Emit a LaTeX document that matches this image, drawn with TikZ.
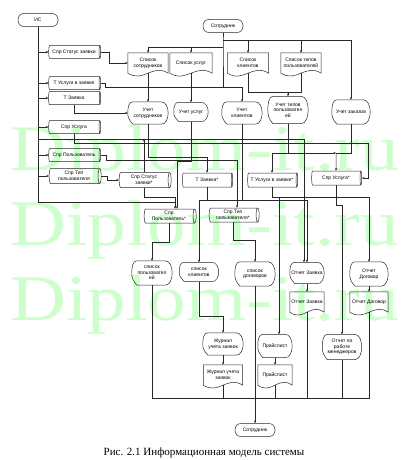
\documentclass[tikz,border=0pt]{standalone}
\usepackage{fontspec}
\setmainfont{Liberation Sans}
\newfontfamily\serifcap{Liberation Serif}
\usetikzlibrary{shapes.geometric,arrows.meta,calc}
\definecolor{wmgreen}{RGB}{204,255,204}
\definecolor{lncol}{RGB}{40,40,40}
\tikzset{
  every node/.style={font=\fontsize{5}{5.6}\selectfont, align=center, text=black},
  ln/.style={draw=lncol, line width=0.5pt},
  arr/.style={ln, -{Stealth[length=2.6pt,width=2.2pt]}},
  term/.style={draw=lncol, line width=0.5pt, rounded corners=6pt, minimum width=40pt, minimum height=13pt, inner sep=1pt},
  cyl/.style={cylinder, draw=lncol, line width=0.5pt, aspect=0.3, minimum height=52pt, minimum width=13pt, inner sep=0.5pt},
  cylb/.style={cyl, minimum height=50pt, minimum width=14pt},
}
\newcommand\docnode[4]{%
  \node[minimum width=#3pt, minimum height=20pt, inner sep=0.5pt] (#1) at (#2) {#4};
  \draw[ln] (#1.south west) -- (#1.north west) -- (#1.north east) -- (#1.south east)
    .. controls +({-0.4*#3},-10) and +({0.4*#3},10) .. (#1.south west);}
\newcommand\dispnode[5]{%
  \node[minimum width=#3pt, minimum height=#4pt, inner sep=0.5pt] (#1) at (#2) {#5};
  \draw[ln] ($(#1.north west)+(5,0)$) -- ($(#1.north east)+(-7,0)$)
    .. controls +(9.3,0) and +(9.3,0) .. ($(#1.south east)+(-7,0)$)
    -- ($(#1.south west)+(5,0)$) .. controls +(-4,-5) and +(0,5) .. (#1.west)
    .. controls +(0,-6) and +(-4,0) .. ($(#1.north west)+(5,0)$);}
\begin{document}
\begin{tikzpicture}[x=1pt,y=-1pt]
\fill[white] (0,0) rectangle (401,460);
\useasboundingbox (0,0) rectangle (401,460);
% watermark
\foreach \yy/\nm in {170/wm1,245/wm2,320/wm3}
  \node[anchor=base west, inner sep=0pt, text=wmgreen, font=\serifcap\fontsize{65}{70}\selectfont, xscale=1.19] (\nm) at (10,\yy) {Diplom-it.ru};
% terminals
\node[term] (is) at (38,20) {ИС};
\node[term] (st1) at (223,26) {Сотрудник};
\node[term] (st2) at (255,430) {Сотрудник};
% left cylinders
\node[cyl] (c1) at (74,52) {Спр Статус заявки};
\node[cyl] (c2) at (74,83) {Т Услуги в заявке};
\node[cyl] (c3) at (74,98) {Т Заявка};
\node[cyl] (c4) at (74,127) {Спр Услуга};
\node[cyl] (c5) at (74,155) {Спр Пользователь};
\node[cyl, minimum width=15pt] (c6) at (74,176) {Спр Тип\\пользователя};
% top documents
\docnode{d1}{148,63}{40}{Список\\сотрудников}
\docnode{d2}{191,63}{42}{Список услуг}
\docnode{d3}{248,63}{41}{Список\\клиентов}
\docnode{d4}{301,63}{40}{Список типов\\пользователей}
% processes
\dispnode{u1}{148,113}{40}{22}{Учет\\сотрудников}
\dispnode{u2}{191,112}{34}{19}{Учет услуг}
\dispnode{u3}{242,113}{40}{22}{Учет\\клиентов}
\dispnode{u4}{288,110}{40}{27}{Учет типов\\пользовател\\ей}
\dispnode{u5}{351,112}{38}{24}{Учет заказов}
% middle cylinders
\node[cyl, minimum width=15pt] (r1) at (144,180) {Спр Статус\\заявки*};
\node[cylb] (r2) at (207,180) {Т Заявка*};
\node[cylb] (r3) at (272,180) {Т Услуги в заявке*};
\node[cylb] (r4) at (336,178) {Спр Услуга*};
\node[cyl, minimum width=14pt] (r5) at (169,216) {Спр\\Пользователь*};
\node[cylb] (r6) at (233,215) {Спр Тип\\пользователя*};
% lower row
\dispnode{s1}{152,273}{40}{24}{список\\пользовател\\ей}
\dispnode{s2}{199,272}{39}{19}{список\\клиентов}
\dispnode{s3}{255,274}{40}{24}{список\\договоров}
\dispnode{o1}{307,273}{34}{21}{Отчет Заявка}
\dispnode{o2}{369,274}{38}{24}{Отчет\\Договор}
\docnode{od1}{307,302}{34}{Отчет Заявка}
\docnode{od2}{369,302}{38}{Отчет Договор}
\dispnode{z1}{223,344}{40}{22}{Журнал\\учета заявок}
\docnode{z2}{223,375}{39}{Журнал учета\\заявок}
\dispnode{p1}{275,346}{34}{23}{Прайслист}
\docnode{p2}{275,375}{34}{Прайслист}
\dispnode{m1}{342,347}{39}{25}{Отчет по\\работе\\менеджеров}
% caption
\node[anchor=base, font=\serifcap\fontsize{11}{12}\selectfont] (cap) at (204,455) {Рис. 2.1 Информационная модель системы};
% junctions
\coordinate (ja) at (223,40);
\coordinate (jb) at (223,47);
\coordinate (jc) at (223,87);
\coordinate (jd) at (288,92);
\coordinate (jg) at (242,87);
\coordinate (jn) at (304,139);
\coordinate (jm) at (368,143);
\coordinate (jk) at (336,153);
\coordinate (jk2) at (r3.north |- jk);
\coordinate (jr) at (175,202);
\coordinate (jt) at (237,160);
\coordinate (jy) at (242,200);
\coordinate (jz) at (255,398);
% top connectors
\draw[ln] (st1.south) -- (ja) -- (jb) -- (jc);
\draw[arr] (ja) -| (d3.north);
\draw[arr] (ja) -| (d4.north);
\draw[arr] (ja) -| (u5.north);
\draw[arr] (jb) -| (d1.north);
\draw[arr] (jb) -| (d2.north);
\draw[arr] (d1.south) -- (u1.north);
\draw[arr] (d2.south) -- (u2.north);
\draw[ln] (d3.south) |- (jd);
\draw[ln] (d4.south) |- (jd);
\draw[arr] (jd) -- (u4.north);
% left trunk
\draw[arr] (is.south) |- (c1.west);
\draw[arr] (is.south) |- (c2.west);
\draw[arr] (is.south) |- (c3.west);
\draw[arr] (is.south) |- (c4.west);
\draw[arr] (is.south) |- (c5.west);
\draw[arr] (is.south) |- (c6.west);
\draw[arr] (is.south) |- (jn) -- (jn |- o1.north);
\draw[arr] (is.south) |- (jr) -- (jr |- r5.north);
% left cylinders to processes
\draw[arr] (c1.east) -- ++(8,0) |- (d1.west);
\draw[arr] (c2.east) -- ++(4,0) |- (jg) -- (u3.north);
\draw[arr] (c3.south) |- (u1.west);
\draw[arr] (c4.south) |- (jm) |- (r4.east);
\draw[arr] (c5.east) -- ++(5,0) |- (jt) -- (jt |- r6.north);
\draw[arr] (c6.east) -- ++(6,0) |- (r1.west);
% middle
\draw[arr] (r1.north) -- (r1.north |- jn);
\draw[ln] (r1.south) -- ++(0,9) -| (jr);
\draw[arr] (u1.south) -- ++(0,33) -| (r2.north);
\draw[arr] (u2.south) -- ++(0,40) -| ($(r5.north)+(8,0)$);
\draw[ln] (u3.south) -- (jy);
\draw[arr] (u4.south) |- (jk);
\draw[ln] (u5.south) |- (jk);
\draw[arr] (jk) -- (r4.north);
\draw[arr] (u4.south) |- (jk2) -- (r3.north);
\draw[arr] (r2.south) -- ++(0,13) -| (o1.north);
\draw[arr] (r2.south) -- ++(0,13) -| (s2.north);
\draw[arr] (r3.south) -- ++(0,10) -| (o2.north);
\draw[arr] (r3.south) -- ++(0,10) -| ($(p1.north)+(4,0)$);
\draw[arr] (r4.south) -- ++(0,20) -| (m1.north);
\draw[arr] (r5.south) -- ++(0,19) -| (s1.north);
\draw[arr] (r6.south) -- ++(0,18) -| (s3.north);
% lower
\draw[arr] (o1.south) -- (od1.north);
\draw[arr] (o2.south) -- (od2.north);
\draw[arr] (s2.south) -- ++(0,35) -| (z1.north);
\draw[arr] (z1.south) -- (z2.north);
\draw[arr] (p1.south) -- (p2.north);
\draw[ln] (s1.south) |- (jz);
\draw[ln] (s3.south) -- (jz);
\draw[ln] (od2.south) |- (jz);
\draw[ln] (z2.south) -- (z2.south |- jz);
\draw[ln] (p2.south) -- (p2.south |- jz);
\draw[ln] (od1.south) -- (od1.south |- jz);
\draw[ln] (m1.south) -- (m1.south |- jz);
\draw[arr] (jz) -- (st2.north);
\end{tikzpicture}
\end{document}
